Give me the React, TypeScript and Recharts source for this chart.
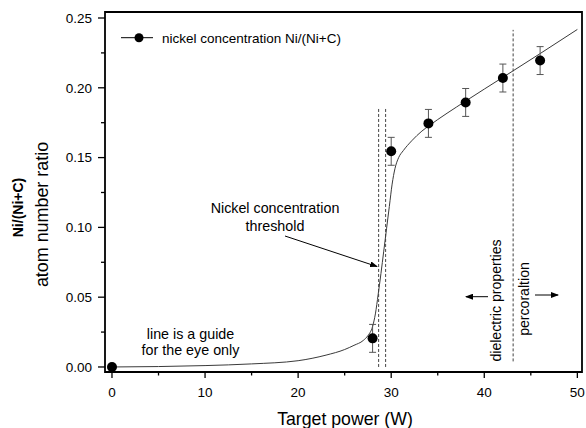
import { ComposedChart, Line, Scatter, ErrorBar, XAxis, YAxis, ReferenceLine } from "recharts"

document.body.style.margin = "0"

const FONT = "Arial, 'Liberation Sans', sans-serif"

// measured points
const powerW = [0, 28, 30, 34, 38, 42, 46]
const niRatio = [0, 0.0205, 0.1545, 0.1745, 0.1895, 0.207, 0.2195]
const niError = [0, 0.01, 0.01, 0.01, 0.01, 0.01, 0.01]

// guide-for-the-eye curve
const guideX = [0, 5, 10, 15, 20, 23, 25, 26, 27, 27.5, 28, 28.3, 28.6, 28.9, 29.2, 29.5, 29.8, 30.1, 30.4, 30.8, 31.3, 32.2, 33.3, 34, 38, 42, 46, 50]
const guideY = [0, 0.0003, 0.001, 0.0022, 0.0045, 0.0085, 0.0125, 0.0155, 0.019, 0.0225, 0.029, 0.038, 0.052, 0.067, 0.083, 0.099, 0.115, 0.131, 0.142, 0.15, 0.155, 0.162, 0.169, 0.1725, 0.1905, 0.2075, 0.2245, 0.2418]

const xTicks = [0, 5, 10, 15, 20, 25, 30, 35, 40, 45, 50]
const yTicks = [0, 0.025, 0.05, 0.075, 0.1, 0.125, 0.15, 0.175, 0.2, 0.225, 0.25]
const xDomain = [-0.75, 50.5]
const yDomain = [-0.0036, 0.2543]

// dashed markers: [x, yFrom, yTo]
const dashedLines = [
  [28.65, 0, 0.186],
  [29.4, 0, 0.186],
  [43.1, 0.004, 0.2415],
]

const points = powerW.map((x, i) => ({ x, y: niRatio[i], err: niError[i] }))
const guide = guideX.map((x, i) => ({ x, y: guideY[i] }))

const isMajor = (v: number, step: number) => Math.abs(v / step - Math.round(v / step)) < 1e-6

function XTick(props: any) {
  const { x, y, payload } = props
  const major = isMajor(payload.value, 10)
  return (
    <g>
      <line x1={x} x2={x} y1={y} y2={y + (major ? 6 : 3.5)} stroke="#000" strokeWidth={1.3} />
      {major && (
        <text x={x} y={y + 25} textAnchor="middle" fontSize={13.5} fontFamily={FONT} fill="#000">
          {payload.value}
        </text>
      )}
    </g>
  )
}

function YTick(props: any) {
  const { x, y, payload } = props
  const major = isMajor(payload.value, 0.05)
  return (
    <g>
      <line x1={x - (major ? 7 : 4)} x2={x} y1={y} y2={y} stroke="#000" strokeWidth={1.3} />
      {major && (
        <text x={x - 13} y={y} dy="0.35em" textAnchor="end" fontSize={13.5} fontFamily={FONT} fill="#000">
          {payload.value.toFixed(2)}
        </text>
      )}
    </g>
  )
}

export default function App() {
  return (
    <div style={{ position: "relative", width: 586, height: 428, background: "#fff" }}>
      <ComposedChart width={586} height={428} margin={{ top: 12, right: 4, bottom: 0, left: 0 }}>
        <XAxis
          dataKey="x"
          type="number"
          domain={xDomain}
          ticks={xTicks}
          interval={0}
          allowDataOverflow
          height={56}
          tickSize={0}
          tickMargin={0}
          axisLine={false}
          tickLine={false}
          tick={(p: any) => <XTick {...p} />}
        />
        <YAxis
          type="number"
          domain={yDomain}
          ticks={yTicks}
          interval={0}
          allowDataOverflow
          width={105}
          tickSize={0}
          tickMargin={0}
          axisLine={false}
          tickLine={false}
          tick={(p: any) => <YTick {...p} />}
        />
        {dashedLines.map(([x, y1, y2]) => (
          <ReferenceLine
            key={x}
            segment={[{ x, y: y1 }, { x, y: y2 }]}
            stroke="#444"
            strokeWidth={1}
            strokeDasharray="3 2"
          />
        ))}
        <Line
          data={guide}
          dataKey="y"
          type="monotone"
          dot={false}
          stroke="#3a3a3a"
          strokeWidth={1}
          isAnimationActive={false}
        />
        <Scatter
          data={points}
          dataKey="y"
          fill="#000"
          isAnimationActive={false}
          shape={(p: any) => <circle cx={p.cx} cy={p.cy} r={5} fill="#000" />}
        >
          <ErrorBar dataKey="err" direction="y" width={3.5} stroke="#555" strokeWidth={1} />
        </Scatter>
      </ComposedChart>

      <svg
        width={586}
        height={428}
        style={{ position: "absolute", left: 0, top: 0, pointerEvents: "none" }}
        fontFamily={FONT}
      >
        <defs>
          <marker id="head" markerWidth="8" markerHeight="6" refX="7" refY="3" orient="auto" markerUnits="userSpaceOnUse">
            <path d="M0,0 L8,3 L0,6 Z" fill="#000" />
          </marker>
        </defs>

        {/* plot frame */}
        <path d="M105,12 H582 V372 H105 Z" fill="none" stroke="#000" strokeWidth={1.8} />

        {/* legend */}
        <line x1={121} x2={153} y1={37.7} y2={37.7} stroke="#000" strokeWidth={1} />
        <circle cx={139} cy={37.7} r={4.5} fill="#000" />
        <text x={162} y={42.5} fontSize={13.5} fill="#000">nickel concentration Ni/(Ni+C)</text>

        {/* annotations */}
        <text x={275} y={213} fontSize={14.3} textAnchor="middle" fill="#000">Nickel concentration</text>
        <text x={275} y={230.5} fontSize={14.3} textAnchor="middle" fill="#000">threshold</text>
        <line x1={285} y1={236} x2={377} y2={266.5} stroke="#000" strokeWidth={1} markerEnd="url(#head)" />

        <text x={190.5} y={338.5} fontSize={14.3} textAnchor="middle" fill="#000">line is a guide</text>
        <text x={190.5} y={354.5} fontSize={14.3} textAnchor="middle" fill="#000">for the eye only</text>

        <text transform="translate(501,300.5) rotate(-90)" fontSize={14.1} textAnchor="middle" fill="#000">dielectric properties</text>
        <text transform="translate(528.5,299) rotate(-90)" fontSize={14.1} textAnchor="middle" fill="#000">percoraltion</text>
        <line x1={488} y1={296.7} x2={466} y2={296.7} stroke="#000" strokeWidth={1} markerEnd="url(#head)" />
        <line x1={535} y1={295} x2={558} y2={295} stroke="#000" strokeWidth={1} markerEnd="url(#head)" />

        {/* axis titles */}
        <text x={345} y={425} fontSize={17.7} textAnchor="middle" fill="#000">Target power (W)</text>
        <text transform="translate(23,207.5) rotate(-90)" fontSize={14} fontWeight="bold" textAnchor="middle" fill="#000">Ni/(Ni+C)</text>
        <text transform="translate(48,214.5) rotate(-90)" fontSize={17.9} textAnchor="middle" fill="#000">atom number ratio</text>
      </svg>
    </div>
  )
}
